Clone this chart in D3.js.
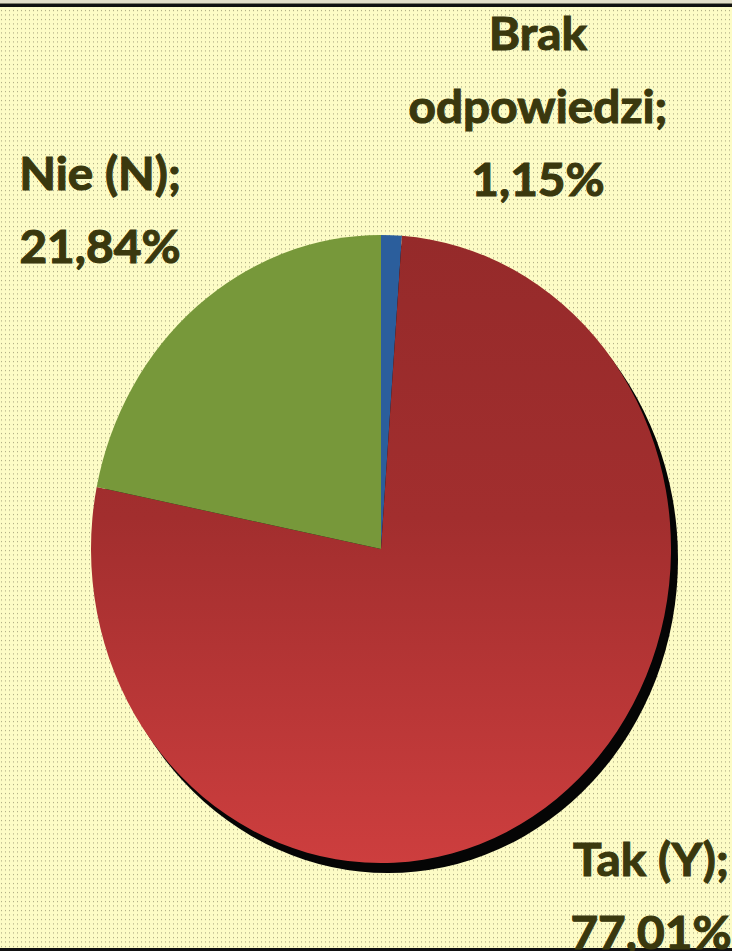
<!DOCTYPE html>
<html>
<head>
<meta charset="utf-8">
<script src="https://cdn.jsdelivr.net/npm/d3@7"></script>
<style>
  html, body { margin: 0; padding: 0; background: #fff; }
  svg { display: block; }
  .lbl { font-family: Lato, "Open Sans", sans-serif; font-weight: 700; font-size: 46px; fill: #3a380e; stroke: #3a380e; stroke-width: 1.1px; }
</style>
</head>
<body>
<div class="chart"></div>
<script>
// data
var categories = ["Brak odpowiedzi", "Tak (Y)", "Nie (N)"];
var values = [1.15, 77.01, 21.84];
var colors = ["#2b5e9c", "url(#redGrad)", "#77983a"];

var svgWidth = 732;
var svgHeight = 951;

// pie geometry (ellipse, stretched vertically)
var cx = 381, cy = 549, radius = 290, stretch = 314 / 290;

// label anchors (centre x, first baseline) and line step
var labelPos = [[538, 50], [651, 876], [100, 190]];
var lineStep = 73;

var svg = d3.select(".chart")
  .append("svg")
    .attr("width", svgWidth)
    .attr("height", svgHeight);

var defs = svg.append("defs");

var dots = defs.append("pattern")
    .attr("id", "dots")
    .attr("patternUnits", "userSpaceOnUse")
    .attr("width", 4)
    .attr("height", 4.5);
dots.append("rect").attr("width", 4).attr("height", 4.5).attr("fill", "#fdfcc6");
dots.append("rect").attr("x", 1).attr("y", 1).attr("width", 1).attr("height", 1).attr("fill", "#9e9c76");

var redGrad = defs.append("linearGradient")
    .attr("id", "redGrad")
    .attr("gradientUnits", "userSpaceOnUse")
    .attr("x1", 0).attr("y1", -radius)
    .attr("x2", 0).attr("y2", radius);
redGrad.append("stop").attr("offset", "0%").attr("stop-color", "#952a2a");
redGrad.append("stop").attr("offset", "45%").attr("stop-color", "#a22e2e");
redGrad.append("stop").attr("offset", "100%").attr("stop-color", "#cd3e3e");

// background
svg.append("rect")
    .attr("width", svgWidth)
    .attr("height", svgHeight)
    .attr("fill", "url(#dots)");
svg.append("rect").attr("width", svgWidth).attr("height", 3.5).attr("fill", "#e3dfca");
svg.append("rect").attr("y", 3.5).attr("width", svgWidth).attr("height", 3.5).attr("fill", "#111");
svg.append("rect").attr("y", svgHeight - 3).attr("width", svgWidth).attr("height", 3).attr("fill", "#111");

var pie = d3.pie().sort(null).value(function(d) { return d; });
var arcs = pie(values);
var arc = d3.arc().innerRadius(0).outerRadius(radius);

// shadow
svg.append("g")
    .attr("transform", "translate(" + (cx + 7) + "," + (cy + 10) + ") scale(1," + stretch + ")")
  .append("circle")
    .attr("r", radius)
    .attr("fill", "#050505");

var chart = svg.append("g")
    .attr("transform", "translate(" + cx + "," + cy + ") scale(1," + stretch + ")");

chart.selectAll("path")
    .data(arcs)
    .enter().append("path")
      .attr("d", arc)
      .attr("fill", function(d, i) { return colors[i]; });

// labels
function fmt(v) { return d3.format(".2f")(v).replace(".", ","); }

function wrapWords(txt, maxW) {
  var words = txt.split(" ");
  var lines = [], cur = "";
  var probe = svg.append("text").attr("class", "lbl");
  words.forEach(function(w) {
    var t = cur ? cur + " " + w : w;
    probe.text(t);
    if (cur && probe.node().getComputedTextLength() > maxW) { lines.push(cur); cur = w; }
    else cur = t;
  });
  lines.push(cur);
  probe.remove();
  return lines;
}

// horizontal squeeze so the bold face matches the narrow original lettering
var probe = svg.append("text").attr("class", "lbl").text("odpowiedzi;");
var squeeze = 259 / probe.node().getComputedTextLength();
probe.remove();

categories.forEach(function(c, i) {
  var lines = wrapWords(c + ";", 200 / squeeze);
  lines.push(fmt(values[i]) + "%");
  var g = svg.append("g")
      .attr("transform", "translate(" + labelPos[i][0] + "," + labelPos[i][1] + ") scale(" + squeeze + ",1)");
  g.selectAll("text")
    .data(lines)
    .enter().append("text")
      .attr("class", "lbl")
      .attr("text-anchor", "middle")
      .attr("y", function(d, j) { return j * lineStep; })
      .text(function(d) { return d; });
});
</script>
</body>
</html>
